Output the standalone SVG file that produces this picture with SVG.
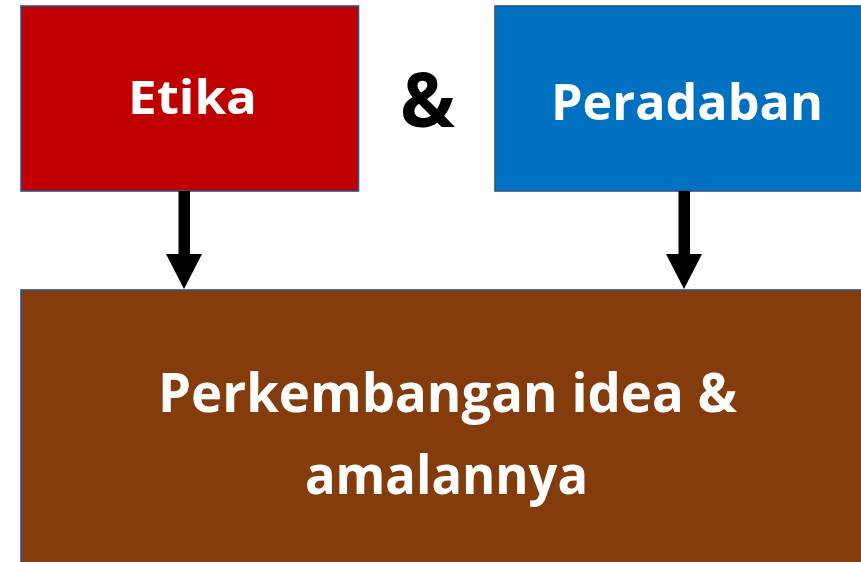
<svg xmlns="http://www.w3.org/2000/svg" width="861" height="562" viewBox="0 0 861 562">
<style>
.box{stroke:#2F528F;stroke-width:1.6}
.t{font-family:"Open Sans","Noto Sans","Liberation Sans",sans-serif;font-weight:bold;fill:#FFFFFF}
.arrow{fill:#000000}
</style>
<rect width="861" height="562" fill="#FFFFFF"/>
<g id="etika">
<rect class="box" x="21" y="6" width="337.5" height="185" fill="#C00000"/>
<text class="t" x="128" y="114" font-size="47" textLength="129" lengthAdjust="spacingAndGlyphs">Etika</text>
</g>
<g id="amp">
<text x="400" y="127" font-family="Open Sans, Noto Sans, Liberation Sans, sans-serif" font-weight="bold" font-size="76" fill="#000000" textLength="55" lengthAdjust="spacingAndGlyphs">&amp;</text>
</g>
<g id="peradaban">
<rect class="box" x="495" y="6" width="380" height="185" fill="#0070C0"/>
<text class="t" x="551" y="120" font-size="50" textLength="272" lengthAdjust="spacingAndGlyphs">Peradaban</text>
</g>
<g id="perkembangan">
<rect class="box" x="21" y="290" width="860" height="290" fill="#843C0C"/>
<text class="t" x="158" y="412" font-size="54" textLength="579" lengthAdjust="spacingAndGlyphs">Perkembangan idea &amp;</text>
<text class="t" x="305" y="494" font-size="54" textLength="283" lengthAdjust="spacingAndGlyphs">amalannya</text>
</g>
<g id="connectors">
<path class="arrow" d="M178.5,191 H190 V254 H202 L184,289 L166,254 H178.5 Z"/>
<path class="arrow" d="M678.5,191 H690 V254 H702 L684,289 L666,254 H678.5 Z"/>
</g>
</svg>
